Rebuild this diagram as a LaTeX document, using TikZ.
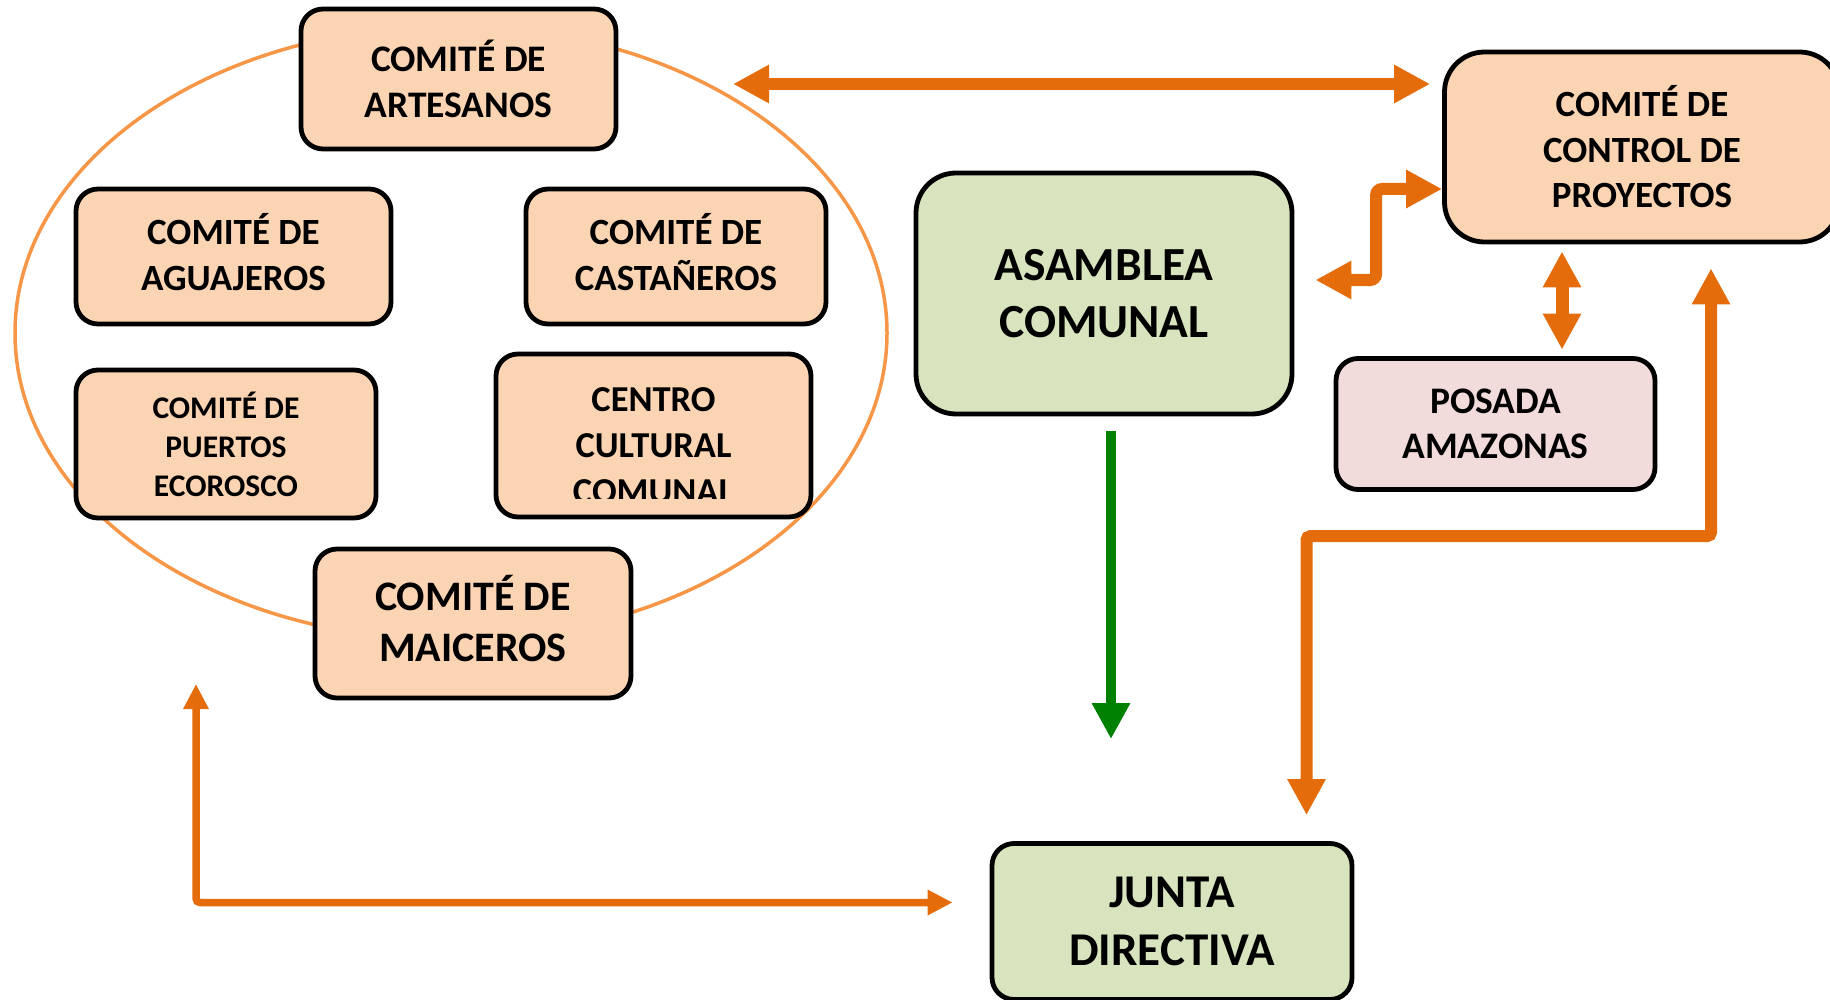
\documentclass[tikz,border=0pt]{standalone}
\usepackage{fontspec}
\setmainfont{Carlito}
\usetikzlibrary{arrows.meta,calc}
\definecolor{peach}{HTML}{FBD4B4}
\definecolor{olive}{HTML}{D7E4BD}
\definecolor{rosy}{HTML}{F2DCDB}
\definecolor{arrorange}{HTML}{E46C0A}
\definecolor{ellorange}{HTML}{F79646}
\definecolor{darkgreen}{HTML}{008000}
\newcommand{\fsz}[2]{\fontsize{#1}{#2}\selectfont\bfseries}
\begin{document}
\begin{tikzpicture}[x=1pt,y=-1pt,
  box/.style={draw=black, line width=4.8pt, rounded corners=22pt, align=center, inner sep=0pt, text=black},
  peachbox/.style={box, fill=peach},
  greenbox/.style={box, fill=olive, rounded corners=40pt},
  boxtext/.style={align=center, inner sep=0pt, text=black},
  oarr/.style={draw=arrorange, line width=12pt, {Triangle[length=36pt,width=36pt]}-{Triangle[length=36pt,width=36pt]}},
  thinarr/.style={draw=arrorange, line width=7.5pt, {Triangle[length=25pt,width=24pt]}-{Triangle[length=25pt,width=24pt]}},
  garr/.style={draw=darkgreen, line width=10pt, -{Triangle[length=36pt,width=36pt]}}
]
\useasboundingbox (0,0) rectangle (1830,1000);
\fill[white] (0,0) rectangle (1830,1000);

% group ellipse
\draw[ellorange, line width=3.5pt] (451,333) ellipse [x radius=436pt, y radius=307pt];

% committees
\node[peachbox, minimum width=315pt, minimum height=140pt, font=\fsz{37.5}{46}] (art) at (458.5,79) {COMITÉ DE\\ARTESANOS};
\node[peachbox, minimum width=315pt, minimum height=135pt] (agu) at (233.5,256.5) {};
\node[boxtext, font=\fsz{37}{46}] (aguT) at (233.5,252) {COMITÉ DE\\AGUAJEROS};
\node[peachbox, minimum width=300pt, minimum height=135pt] (cas) at (676,256.5) {};
\node[boxtext, font=\fsz{37}{46}] (casT) at (676,252) {COMITÉ DE\\CASTAÑEROS};
\node[peachbox, minimum width=300pt, minimum height=148pt, font=\fsz{31.5}{39}] (pue) at (226,444) {COMITÉ DE\\PUERTOS\\ECOROSCO};
\node[peachbox, minimum width=315pt, minimum height=163pt] (cen) at (653.5,435.5) {};
\begin{scope}
  \clip (496,354) rectangle (811,498);
  \node[boxtext, font=\fsz{36.5}{46}] (cenT) at (653.5,445.5) {CENTRO\\CULTURAL\\COMUNAL};
\end{scope}
\node[peachbox, minimum width=316pt, minimum height=149pt] (mai) at (473,623.5) {};
\node[boxtext, font=\fsz{42}{51}] (maiT) at (473,619) {COMITÉ DE\\MAICEROS};

% main bodies
\node[greenbox, minimum width=376pt, minimum height=241pt, font=\fsz{47.5}{57}] (asa) at (1104,293.5) {ASAMBLEA\\COMUNAL};
\node[peachbox, rounded corners=40pt, minimum width=395pt, minimum height=190pt, font=\fsz{37}{45.5}] (ctl) at (1642,147) {COMITÉ DE\\CONTROL DE\\PROYECTOS};
\node[box, fill=rosy, minimum width=319pt, minimum height=131pt, font=\fsz{37.5}{45.5}] (pos) at (1495.5,424) {POSADA\\AMAZONAS};
\node[box, fill=olive, minimum width=360pt, minimum height=156pt, font=\fsz{47}{58}] (jun) at (1172,921.5) {JUNTA\\DIRECTIVA};

% free ends pointing at the committee group
\coordinate (grpNE) at (733,84);
\coordinate (grpS) at (196,684);

% connectors
\draw[oarr, shorten >=12pt] (grpNE) -- (ctl.west |- grpNE);
\draw[oarr, rounded corners=6pt] ($(asa.east)+(21,-13.5)$) -| ($(ctl.west)+(-66,42)$) -- ($(ctl.west)+(0,42)$);
\draw[oarr, line width=13pt] ($(ctl.south)+(-80,7)$) -- ($(pos.north)+(66.5,-6.5)$);
\draw[oarr, rounded corners=4pt] ($(ctl.south)+(69,24)$) |- ($(jun.north)+(134.5,-305)$) -- ($(jun.north)+(134.5,-26)$);
\draw[garr] ($(asa.south)+(7,15)$) -- ($(jun.north)+(-61,-102)$);
\draw[thinarr, rounded corners=4pt] (grpS) |- ($(jun.west)+(-37,-19)$);
\end{tikzpicture}
\end{document}
